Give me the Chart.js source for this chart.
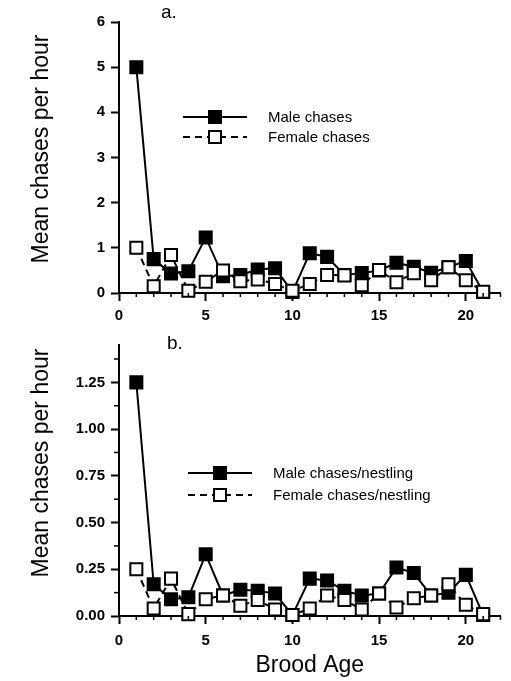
<!DOCTYPE html>
<html><head><meta charset="utf-8">
<script src="https://cdn.jsdelivr.net/npm/chart.js@4.4.0/dist/chart.umd.min.js"></script>
<style>
html,body{margin:0;padding:0;background:#fff;}
#wrap{position:relative;width:511px;height:681px;overflow:hidden;}
.box{position:absolute;left:0;width:511px;}
</style></head><body>
<div id="wrap">
<div class="box" style="top:0;height:330px"><canvas id="c1"></canvas></div>
<div class="box" style="top:330px;height:351px"><canvas id="c2"></canvas></div>
</div>
<script>
const broodAge = [1,2,3,4,5,6,7,8,9,10,11,12,13,14,15,16,17,18,19,20,21];
const maleChases = [5.0,0.75,0.43,0.48,1.23,0.37,0.40,0.52,0.55,0.02,0.88,0.80,0.40,0.44,0.50,0.67,0.58,0.45,0.57,0.71,0.02];
const femaleChases = [1.0,0.15,0.84,0.05,0.25,0.50,0.26,0.30,0.20,0.05,0.20,0.40,0.39,0.17,0.51,0.24,0.44,0.28,0.57,0.28,0.03];
const maleChasesPerNestling = [1.25,0.17,0.09,0.10,0.33,0.11,0.14,0.135,0.12,0.005,0.20,0.19,0.135,0.11,0.12,0.26,0.23,0.11,0.125,0.22,0.005];
const femaleChasesPerNestling = [0.25,0.04,0.20,0.01,0.09,0.11,0.055,0.085,0.035,0.005,0.04,0.11,0.085,0.035,0.12,0.045,0.095,0.11,0.17,0.06,0.01];
const xTicks = [0,5,10,15,20];
const yTicksA = [0,1,2,3,4,5,6];
const yTicksB = [0,0.25,0.5,0.75,1.0,1.25];
const legendA = ['Male chases','Female chases'];
const legendB = ['Male chases/nestling','Female chases/nestling'];
const yTitle = 'Mean chases per hour';

const FAM = '"Liberation Sans", Arial, Helvetica, sans-serif';

const customPlugin = {
  id: 'custom',
  afterDraw(chart, args, o) {
    const ctx = chart.ctx;
    const xs = chart.scales.x, ys = chart.scales.y;
    ctx.save();
    // minor ticks
    ctx.strokeStyle = '#000'; ctx.lineWidth = 1.5;
    for (let v = 1; v <= 22; v++) {
      if (v % 5 === 0) continue;
      const px = xs.getPixelForValue(v);
      ctx.beginPath(); ctx.moveTo(px, xs.top); ctx.lineTo(px, xs.top + 4); ctx.stroke();
    }
    (o.yMinor || []).forEach(v => {
      const py = ys.getPixelForValue(v);
      ctx.beginPath(); ctx.moveTo(ys.right, py); ctx.lineTo(ys.right - 5, py); ctx.stroke();
    });
    // y title
    ctx.save();
    ctx.translate(42, o.titleY);
    ctx.rotate(-Math.PI / 2);
    ctx.fillStyle = '#000';
    ctx.font = '23px ' + FAM;
    ctx.textAlign = 'center'; ctx.textBaseline = 'middle';
    ctx.fillText(yTitle, 0, 0);
    ctx.restore();
    // panel letter
    ctx.fillStyle = '#000';
    ctx.font = '19px ' + FAM;
    ctx.textBaseline = 'middle'; ctx.textAlign = 'left';
    ctx.fillText(o.letter, o.letterX, o.letterY);
    // legend
    o.labels.forEach((lab, i) => {
      const ds = chart.data.datasets[i];
      const y = o.ly + i * o.gap;
      ctx.lineWidth = 2; ctx.strokeStyle = '#000';
      ctx.setLineDash(ds.borderDash || []);
      ctx.beginPath(); ctx.moveTo(o.x0, y); ctx.lineTo(o.x1, y); ctx.stroke();
      ctx.setLineDash([]);
      const cx = (o.x0 + o.x1) / 2, s = 12;
      ctx.fillStyle = ds.pointBackgroundColor;
      ctx.fillRect(cx - s/2, y - s/2, s, s);
      ctx.strokeRect(cx - s/2, y - s/2, s, s);
      ctx.fillStyle = '#000';
      ctx.font = '15px ' + FAM;
      ctx.fillText(lab, o.tx, y + 1);
    });
    ctx.restore();
  }
};

function makeChart(id, male, female, yMax, yTicks, yFmt, opts) {
  const ds = (vals, dash, fill, order) => ({
    data: broodAge.map((x, i) => ({x, y: vals[i]})),
    borderColor: '#000', borderWidth: 2, borderDash: dash,
    pointStyle: 'rect', pointRadius: 8.5, pointBorderWidth: 2,
    pointBackgroundColor: fill, pointBorderColor: '#000',
    tension: 0, clip: false, order: order
  });
  return new Chart(document.getElementById(id), {
    type: 'line',
    data: { datasets: [ ds(male, [], '#000', 1), ds(female, [7, 5], '#fff', 0) ] },
    options: {
      responsive: true, maintainAspectRatio: false, animation: false,
      layout: { padding: { left: 0, right: 8, top: opts.padTop, bottom: 0 } },
      plugins: { legend: { display: false }, tooltip: { enabled: false }, custom: opts.custom },
      scales: {
        x: {
          type: 'linear', min: 0, max: 22,
          afterBuildTicks: s => { s.ticks = xTicks.map(v => ({value: v})); },
          afterFit: s => { s.height = opts.xHeight; },
          border: { display: true, color: '#000', width: 2 },
          grid: { drawOnChartArea: false, drawTicks: true, tickLength: 8, tickWidth: 2, tickColor: '#000' },
          ticks: { color: '#000', font: { family: FAM, size: 15, weight: 'bold' }, padding: opts.xPad, maxRotation: 0 },
          title: opts.xTitle
        },
        y: {
          type: 'linear', min: 0, max: yMax,
          afterBuildTicks: s => { s.ticks = yTicks.map(v => ({value: v})); },
          afterFit: s => { s.width = 119; },
          border: { display: true, color: '#000', width: 2 },
          grid: { drawOnChartArea: false, drawTicks: true, tickLength: 8, tickWidth: 2, tickColor: '#000' },
          ticks: { color: '#000', font: { family: FAM, size: 15, weight: 'bold' }, padding: 6, callback: yFmt },
          title: { display: false }
        }
      }
    },
    plugins: [customPlugin]
  });
}

makeChart('c1', maleChases, femaleChases, 6, yTicksA, v => String(v), {
  padTop: 22, xHeight: 37, xPad: 6, xTitle: { display: false },
  custom: { letter: 'a.', letterX: 161, letterY: 13, titleY: 149, labels: legendA, x0: 183, x1: 247, ly: 117, gap: 20, tx: 268, yMinor: [] }
});
makeChart('c2', maleChasesPerNestling, femaleChasesPerNestling, 1.45, yTicksB, v => v.toFixed(2), {
  padTop: 15, xHeight: 65, xPad: 8,
  xTitle: { display: true, text: 'Brood Age', color: '#000', font: { family: FAM, size: 23 }, padding: { top: 0, bottom: 2 } },
  custom: { letter: 'b.', letterX: 167, letterY: 14, titleY: 133, labels: legendB, x0: 188, x1: 252, ly: 143, gap: 22, tx: 273, yMinor: [0.125, 0.375, 0.625, 0.875, 1.125, 1.375] }
});
</script>
</body></html>
